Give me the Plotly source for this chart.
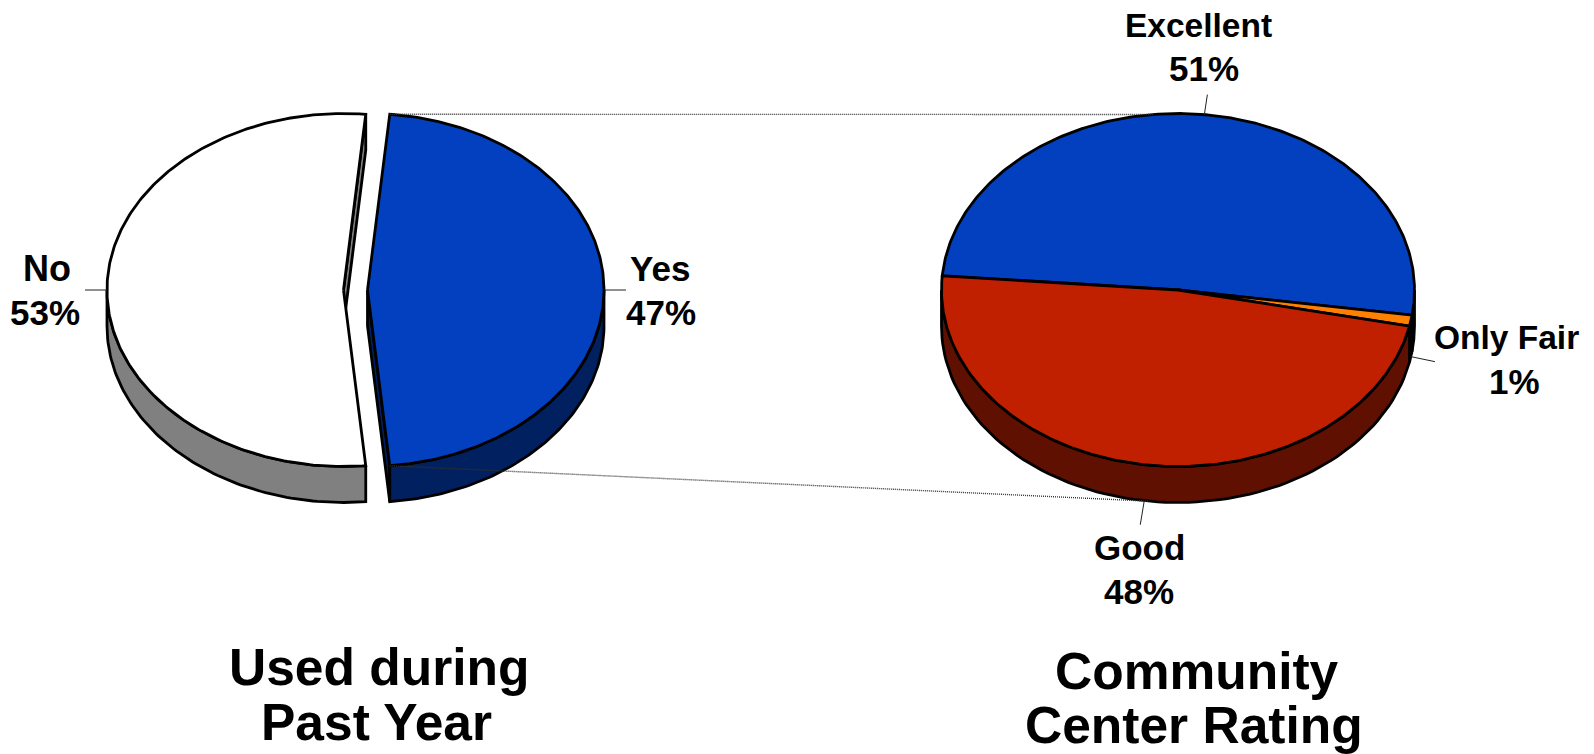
import numpy as np
import plotly.graph_objects as go

# ---- data ----
usage_labels = ["No", "Yes"]
usage_values = [53, 47]
rating_labels = ["Excellent", "Only Fair", "Good"]
rating_values = [51, 1, 48]
title_left = ["Used during", "Past Year"]
title_right = ["Community", "Center Rating"]

# ---- styles / layout ----
RX, RY, DEPTH = 236.5, 176.5, 36
CY = 290
LEFT_CX = 355.5
EXPLODE = 12
RIGHT_CX = 1178
LEFT_START = 174.6    # clockwise degrees from 12 o'clock
RIGHT_START = 274.6
FONT = "Liberation Sans"
usage_top = ["#FFFFFF", "#0240BF"]
usage_side = ["#808080", "#01205F"]
rating_top = ["#0240BF", "#FF8000", "#C02000"]
rating_side = ["#01205F", "#804000", "#601000"]
LW = 2.8

fig = go.Figure()


def poly(x, y, fill, lw=LW):
    fig.add_trace(go.Scatter(
        x=x, y=y, mode="lines", fill="toself", fillcolor=fill,
        line=dict(color="black", width=lw), hoverinfo="skip", showlegend=False))


def line(x, y, color="#222222", width=1, dash=None):
    fig.add_trace(go.Scatter(
        x=x, y=y, mode="lines", line=dict(color=color, width=width, dash=dash),
        hoverinfo="skip", showlegend=False))


def pt(cx, deg, dy=0):
    t = np.radians(deg)
    return cx + RX * np.sin(t), CY - RY * np.cos(t) + dy


def slices(values, start):
    out, a = [], start
    for v in values:
        b = a + v / sum(values) * 360
        out.append((a, b))
        a = b
    return out


def wall(cx, a, b, fill):
    # outer wall: only the part facing the viewer (90..270 degrees)
    for k in (-360, 0, 360):
        lo, hi = max(a + k, 90), min(b + k, 270)
        if hi > lo:
            t = np.linspace(lo, hi, 90)
            x1, y1 = pt(cx, t)
            x2, y2 = pt(cx, t[::-1], DEPTH)
            poly(np.r_[x1, x2, x1[0]], np.r_[y1, y2, y1[0]], fill)


def cut_face(cx, deg, fill):
    x, y = pt(cx, deg)
    poly([cx, x, x, cx, cx], [CY, y, y + DEPTH, CY + DEPTH, CY], fill)


def top(cx, a, b, fill):
    t = np.linspace(a, b, 240)
    x, y = pt(cx, t)
    poly(np.r_[cx, x, cx], np.r_[CY, y, CY], fill)


# left, exploded pie
left = slices(usage_values, LEFT_START)
centres = [LEFT_CX - EXPLODE, LEFT_CX + EXPLODE]
yes_bottom = left[0][0]
for (a, b), cx, ct, cs in zip(left, centres, usage_top, usage_side):
    # the cut face that looks towards the gap (end of the slice, clockwise)
    end = yes_bottom if cx > LEFT_CX else b
    cut_face(cx, end, cs)
    wall(cx, a, b, cs)
    top(cx, a, b, ct)

# right pie
right = slices(rating_values, RIGHT_START)
for (a, b), cs in zip(right, rating_side):
    wall(RIGHT_CX, a, b, cs)
for (a, b), ct in zip(right, rating_top):
    top(RIGHT_CX, a, b, ct)

# connector lines between the two pies
yes_cx = centres[1]
x0, y0 = pt(yes_cx, left[1][0])
x1, y1 = pt(RIGHT_CX, -6)
line([x0, x1], [y0, y1], color="#333333", width=1.4, dash="1px,1px")
x0, y0 = pt(yes_cx, left[1][1])
x1, y1 = pt(RIGHT_CX, 187, DEPTH)
line([x0, x1], [y0, y1], color="#333333", width=1.4, dash="1px,1px")

# leader lines (from slice midpoint to a short offset)
leader_offsets = {"No": (-22, 0, 0), "Yes": (22, 0, 0),
                  "Excellent": (3, -20, 0), "Only Fair": (24, 5, DEPTH),
                  "Good": (-4, 24, DEPTH)}
for labs, sl, cxs in ((usage_labels, left, centres),
                      (rating_labels, right, [RIGHT_CX] * 3)):
    for lab, (a, b), cx in zip(labs, sl, cxs):
        dx, dy, d = leader_offsets[lab]
        x, y = pt(cx, (a + b) / 2, d)
        line([x, x + dx], [y, y + dy], color="#222222", width=1)

# text
label_pos = {"No": (47, 268, 45, 312), "Yes": (660, 268, 661, 312),
             "Excellent": (1198, 25, 1204, 68),
             "Only Fair": (1506, 337, 1514, 381),
             "Good": (1139, 547, 1139, 591)}
label_size = {"No": 36, "Yes": 35, "Excellent": 33.5, "Only Fair": 33.5, "Good": 35}
ann = []


def text(s, x, y, size):
    ann.append(dict(x=x, y=y, text=s, xref="x", yref="y", showarrow=False,
                    xanchor="center", yanchor="middle",
                    font=dict(family=FONT, size=size, color="black")
                    ))


for labs, vals in ((usage_labels, usage_values), (rating_labels, rating_values)):
    for lab, v in zip(labs, vals):
        xa, ya, xb, yb = label_pos[lab]
        text(f"<b>{lab}</b>", xa, ya, label_size[lab])
        text(f"<b>{v}%</b>", xb, yb, 35)

for s, (x, y) in zip(title_left, [(379, 667), (376, 722)]):
    text(f"<b>{s}</b>", x, y, 51.5)
for s, (x, y) in zip(title_right, [(1197, 671), (1194, 725)]):
    text(f"<b>{s}</b>", x, y, 51.5)

fig.update_layout(
    width=1594, height=754, margin=dict(l=0, r=0, t=0, b=0),
    paper_bgcolor="white", plot_bgcolor="white", annotations=ann,
    xaxis=dict(range=[0, 1594], visible=False, fixedrange=True),
    yaxis=dict(range=[754, 0], visible=False, fixedrange=True),
)
fig.write_html("out.html", post_script="document.body.style.margin='0';document.documentElement.style.overflow='hidden';",
               config={"displayModeBar": False})
